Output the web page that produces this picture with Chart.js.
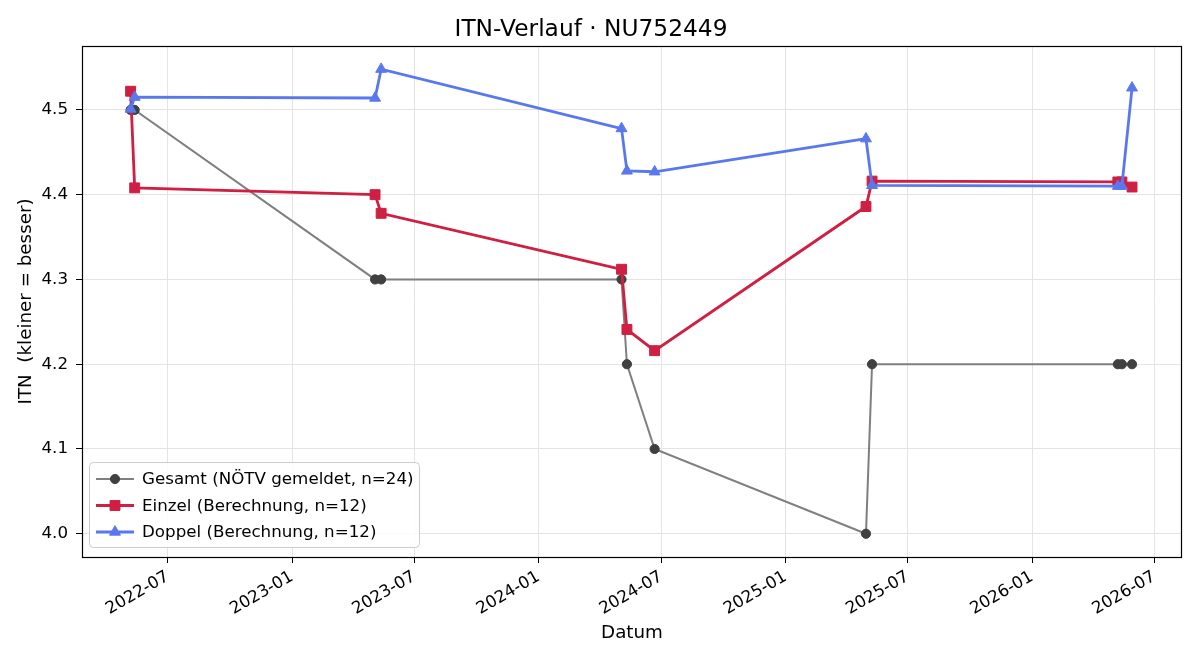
<!DOCTYPE html>
<html>
<head>
<meta charset="utf-8">
<script src="https://cdn.jsdelivr.net/npm/chart.js@4.4.1/dist/chart.umd.min.js"></script>
<style>
html,body{margin:0;padding:0;background:#fff;}
#wrap{position:relative;width:1200px;height:660px;}
</style>
</head>
<body>
<div id="wrap"><canvas id="c" width="1200" height="660"></canvas></div>
<script>
// ---- data ----
const dates = ['2022-05-07','2022-05-13','2023-05-04','2023-05-13','2024-05-03','2024-05-11','2024-06-21','2025-04-30','2025-05-09','2026-05-08','2026-05-14','2026-05-29'];
const gesamt = [4.5, 4.5, 4.3, 4.3, 4.3, 4.2, 4.1, 4.0, 4.2, 4.2, 4.2, 4.2];
const einzel = [4.522, 4.408, 4.400, 4.378, 4.312, 4.241, 4.216, 4.386, 4.416, 4.415, 4.415, 4.409];
const doppel = [4.501, 4.515, 4.514, 4.548, 4.478, 4.428, 4.427, 4.466, 4.411, 4.410, 4.410, 4.526];
const seriesLabels = ['Gesamt (NÖTV gemeldet, n=24)', 'Einzel (Berechnung, n=12)', 'Doppel (Berechnung, n=12)'];
const xTickLabels = ['2022-07','2023-01','2023-07','2024-01','2024-07','2025-01','2025-07','2026-01','2026-07'];
const yTicks = [4.0, 4.1, 4.2, 4.3, 4.4, 4.5];
const xRange = ['2022-02-24', '2026-08-11'];
const yRange = [3.9726, 4.5754];
const titleText = 'ITN-Verlauf · NU752449';
const xTitle = 'Datum';
const yTitle = 'ITN  (kleiner = besser)';

const ts = s => { const [y,m,d] = s.split('-').map(Number); return Date.UTC(y, m-1, d || 1); };
const pts = vals => dates.map((d,i) => ({x: ts(d), y: vals[i]}));
const FONT = 'DejaVu Sans';
const TICK_PX = 16.7, LABEL_PX = 18.3, TITLE_PX = 23.3;

const styles = [
  {line:'#7f7f7f', fill:'#404040', shape:'circle', r:4.6, w:2},
  {line:'#cf1f42', fill:'#cf1f42', shape:'rect', r:7, w:2.8},
  {line:'#5a78ee', fill:'#5a78ee', shape:'triangle', r:6.3, w:2.8}
];
const vals = [gesamt, einzel, doppel];

const datasets = vals.map((v,i) => ({
  label: seriesLabels[i],
  data: pts(v),
  borderColor: styles[i].line,
  backgroundColor: styles[i].fill,
  pointBackgroundColor: styles[i].fill,
  pointBorderColor: styles[i].fill,
  pointBorderWidth: 1,
  pointStyle: styles[i].shape,
  pointRadius: styles[i].r,
  borderWidth: styles[i].w,
  tension: 0,
  order: 2 - i
}));

const framePlugin = {
  id: 'frame',
  afterDraw(chart) {
    const {ctx, chartArea: a} = chart;
    ctx.save();
    ctx.strokeStyle = '#000';
    ctx.lineWidth = 1.2;
    ctx.strokeRect(Math.round(a.left)+0.5, Math.round(a.top)+0.5, Math.round(a.right-a.left)-1, Math.round(a.bottom-a.top));
    // legend
    const lx = a.left + 7, ly = a.bottom - 95, lw = 330, lh = 85;
    ctx.fillStyle = 'rgba(255,255,255,0.85)';
    ctx.strokeStyle = '#cccccc';
    ctx.lineWidth = 1;
    ctx.beginPath();
    ctx.roundRect(lx+0.5, ly+0.5, lw, lh, 4);
    ctx.fill(); ctx.stroke();
    ctx.font = TICK_PX + 'px "' + FONT + '"';
    ctx.textBaseline = 'middle';
    chart.data.datasets.forEach((ds, i) => {
      const y = ly + 17 + i * 26.5;
      ctx.strokeStyle = ds.borderColor;
      ctx.lineWidth = ds.borderWidth;
      ctx.beginPath(); ctx.moveTo(lx + 7, y); ctx.lineTo(lx + 45, y); ctx.stroke();
      ctx.fillStyle = ds.pointBackgroundColor;
      ctx.strokeStyle = ds.pointBorderColor;
      ctx.lineWidth = 1;
      Chart.helpers.drawPoint(ctx, {pointStyle: ds.pointStyle, radius: ds.pointRadius, borderWidth: 1}, lx + 26, y);
      ctx.fillStyle = '#000';
      ctx.fillText(ds.label, lx + 53, y + 1);
    });
    ctx.restore();
  }
};

new Chart(document.getElementById('c'), {
  type: 'line',
  data: {datasets},
  options: {
    responsive: false,
    animation: false,
    layout: {padding: {left: 0, right: 18, top: 0, bottom: 0}},
    plugins: {
      legend: {display: false},
      tooltip: {enabled: false},
      title: {display: true, text: titleText, color: '#000', font: {family: FONT, size: TITLE_PX, weight: 'normal'}, padding: {top: 16, bottom: 2}}
    },
    scales: {
      x: {
        type: 'linear',
        min: ts(xRange[0]), max: ts(xRange[1]),
        afterBuildTicks: s => { s.ticks = xTickLabels.map(l => ({value: ts(l + '-01')})); },
        afterFit: s => { s.height = 103; },
        ticks: {
          autoSkip: false, minRotation: 30, maxRotation: 30, color: '#000', padding: 4,
          font: {family: FONT, size: TICK_PX},
          callback: (v, i) => xTickLabels[i]
        },
        grid: {color: '#e4e4e4', tickColor: '#000', tickLength: 6, drawTicks: true},
        border: {display: false},
        title: {display: true, text: xTitle, color: '#000', font: {family: FONT, size: LABEL_PX}, padding: {top: 0, bottom: 16}}
      },
      y: {
        type: 'linear',
        min: yRange[0], max: yRange[1],
        afterBuildTicks: s => { s.ticks = yTicks.map(v => ({value: v})); },
        afterFit: s => { s.width = 82; },
        ticks: {color: '#000', padding: 8, font: {family: FONT, size: TICK_PX}, callback: v => Number(v).toFixed(1)},
        grid: {color: '#e4e4e4', tickColor: '#000', tickLength: 6, drawTicks: true},
        border: {display: false},
        title: {display: true, text: yTitle, color: '#000', font: {family: FONT, size: LABEL_PX}, padding: {top: 15, bottom: 0}}
      }
    }
  },
  plugins: [framePlugin]
});
</script>
</body>
</html>
